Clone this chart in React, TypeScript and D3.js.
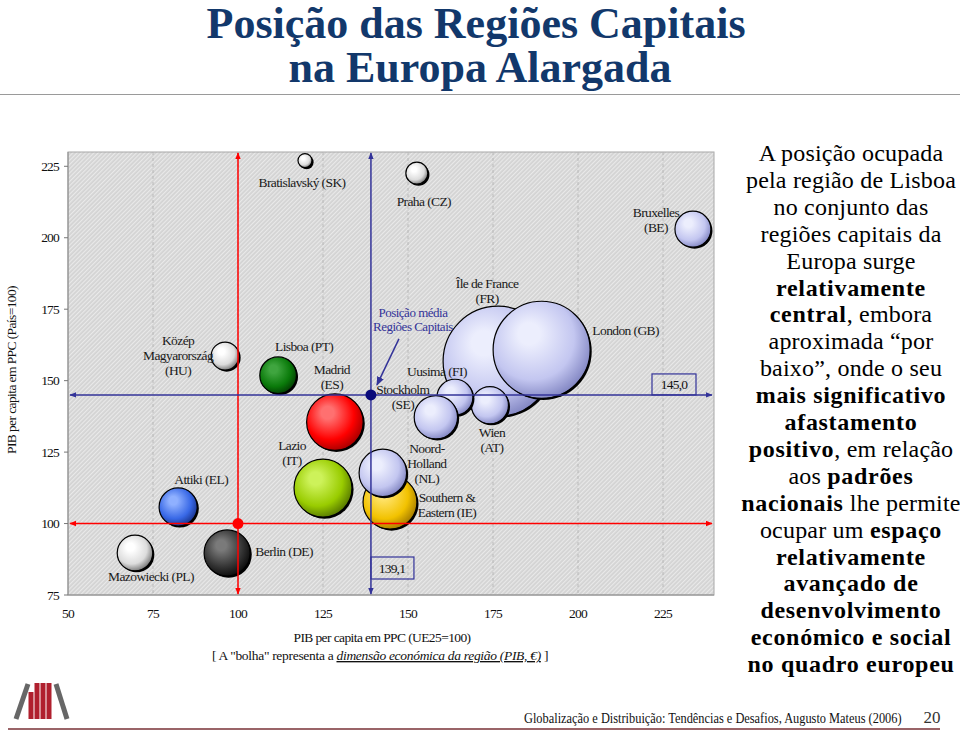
import React from "react";
import * as d3 from "d3";

// ---------- DATA ----------
const regions = [
  "Mazowiecki (PL)", "Berlin (DE)", "Attiki (EL)", "Közép-Magyarország (HU)", "Lisboa (PT)",
  "Lazio (IT)", "Madrid (ES)", "Bratislavský (SK)", "Praha (CZ)", "Southern & Eastern (IE)",
  "Noord-Holland (NL)", "Île de France (FR)", "London (GB)", "Wien (AT)", "Uusimaa (FI)",
  "Stockholm (SE)", "Bruxelles (BE)",
];
// PIB per capita em PPC (UE25=100)
const gdpPpcEU = [69.7, 96.8, 82.4, 96.2, 111.8, 125.0, 128.5, 119.7, 152.6, 144.7, 142.6, 176.5, 189.3, 174.1, 163.8, 158.2, 233.8];
// PIB per capita em PPC (País=100)
const gdpPpcNat = [89.7, 89.7, 105.8, 158.6, 151.9, 112.4, 135.5, 227.0, 222.6, 107.5, 117.7, 156.8, 160.8, 141.4, 144.2, 137.2, 203.0];
// dimensão económica (PIB, mil milhões €)
const gdpSize = [47, 79, 54, 29, 50, 125, 119, 7.3, 18, 108, 84, 450, 350, 51, 48, 70, 48];
const colorKeys = ["white", "black", "blue", "white", "dkgreen", "ygreen", "red", "white", "white", "gold", "lavender", "lavender", "lavender", "lavender", "lavender", "lavender", "lavender"];

const xTicks = [50, 75, 100, 125, 150, 175, 200, 225];
const yTicks = [75, 100, 125, 150, 175, 200, 225];
const euRef = 100;
const natRef = 100;
const capitalsMeanX = 139.1;
const capitalsMeanY = 145.0;
const meanXLabel = "139,1";
const meanYLabel = "145,0";

const title1 = "Posição das Regiões Capitais";
const title2 = "na Europa Alargada";
const xTitle = "PIB per capita em PPC (UE25=100)";
const yTitle = "PIB per capita em PPC (País=100)";
const footer = "Globalização e Distribuição: Tendências e Desafios, Augusto Mateus (2006)";
const pageNo = "20";

const rightText: [string, boolean][][] = [
  [["A posição ocupada", false]],
  [["pela região de Lisboa", false]],
  [["no conjunto das", false]],
  [["regiões capitais da", false]],
  [["Europa surge", false]],
  [["relativamente", true]],
  [["central", true], [", embora", false]],
  [["aproximada “por", false]],
  [["baixo”, onde o seu", false]],
  [["mais significativo", true]],
  [["afastamento", true]],
  [["positivo", true], [", em relação", false]],
  [["aos ", false], ["padrões", true]],
  [["nacionais", true], [" lhe permite", false]],
  [["ocupar um ", false], ["espaço", true]],
  [["relativamente", true]],
  [["avançado de", true]],
  [["desenvolvimento", true]],
  [["económico e social", true]],
  [["no quadro europeu", true]],
];

// label layout (lines, offset from bubble centre in px)
const labelLayout: { lines: string[]; dx: number; dy: number }[] = [
  { lines: ["Mazowiecki (PL)"], dx: 16, dy: 24 },
  { lines: ["Berlin (DE)"], dx: 57, dy: -1 },
  { lines: ["Attiki (EL)"], dx: 23, dy: -27 },
  { lines: ["Közép", "Magyarország", "(HU)"], dx: -47, dy: -16 },
  { lines: ["Lisboa (PT)"], dx: 26, dy: -29 },
  { lines: ["Lazio", "(IT)"], dx: -31, dy: -43 },
  { lines: ["Madrid", "(ES)"], dx: -3, dy: -53 },
  { lines: ["Bratislavský (SK)"], dx: -3, dy: 22 },
  { lines: ["Praha (CZ)"], dx: 7, dy: 28 },
  { lines: ["Southern &", "Eastern (IE)"], dx: 57, dy: -5 },
  { lines: ["Noord-", "Holland", "(NL)"], dx: 44, dy: -24 },
  { lines: ["Île de France", "(FR)"], dx: -11, dy: -78 },
  { lines: ["London (GB)"], dx: 84, dy: -19 },
  { lines: ["Wien", "(AT)"], dx: 2, dy: 27 },
  { lines: ["Uusima (FI)"], dx: -18, dy: -26 },
  { lines: ["Stockholm", "(SE)"], dx: -33, dy: -28 },
  { lines: ["Bruxelles", "(BE)"], dx: -37, dy: -17 },
];

const palette: Record<string, [string, string, string]> = {
  white: ["#ffffff", "#dcdcdc", "#7a7a7a"],
  black: ["#7a7a7a", "#333333", "#0c0c0c"],
  blue: ["#8fb0ff", "#3868e6", "#1a3590"],
  dkgreen: ["#3fa53f", "#0a7a0a", "#034003"],
  ygreen: ["#cdf25a", "#99cc00", "#587a00"],
  red: ["#ff7070", "#ff0000", "#a80000"],
  gold: ["#ffe36a", "#f2c200", "#a87e00"],
  lavender: ["#eceefd", "#c3c6f0", "#8488c4"],
};

const W = 960;
const H = 732;
const plot = { left: 68, right: 714, top: 152, bottom: 595 };
const FF = { fontFamily: "Liberation Serif" } as const;
const FFpre = { fontFamily: "Liberation Serif", whiteSpace: "pre" } as const;

export default function App() {
  const x = d3.scaleLinear().domain([50, 240]).range([plot.left, plot.right]);
  const y = d3.scaleLinear().domain([75, 230]).range([plot.bottom, plot.top]);
  const r = d3.scaleSqrt().domain([0, 450]).range([0, 55]);

  const blue = "#333399";
  const red = "#ff0000";

  const mx = x(capitalsMeanX);
  const my = y(capitalsMeanY);

  return (
    <svg width={W} height={H} style={{ position: "absolute", left: 0, top: 0, background: "#fff" }}>
      <defs>
        <pattern id="hatch" width="3" height="3" patternUnits="userSpaceOnUse" patternTransform="rotate(45)">
          <rect width="3" height="3" fill="#d3d3d3" />
          <rect width="1.2" height="3" fill="#e9e9e9" />
        </pattern>
        {Object.entries(palette).map(([k, c]) => (
          <radialGradient key={k} id={`g-${k}`} cx="42%" cy="40%" r="62%" fx="36%" fy="32%">
            <stop offset="0%" stopColor={c[0]} />
            <stop offset="18%" stopColor={c[0]} />
            <stop offset="70%" stopColor={c[1]} />
            <stop offset="100%" stopColor={c[2]} />
          </radialGradient>
        ))}
        <marker id="arR" viewBox="0 0 10 10" refX="9" refY="5" markerWidth="7" markerHeight="7" markerUnits="userSpaceOnUse" orient="auto-start-reverse">
          <path d="M0,1 L10,5 L0,9 z" fill={red} />
        </marker>
        <marker id="arB" viewBox="0 0 10 10" refX="9" refY="5" markerWidth="7" markerHeight="7" markerUnits="userSpaceOnUse" orient="auto-start-reverse">
          <path d="M0,1 L10,5 L0,9 z" fill={blue} />
        </marker>
        <marker id="arB2" viewBox="0 0 10 10" refX="9" refY="5" markerWidth="9" markerHeight="9" markerUnits="userSpaceOnUse" orient="auto">
          <path d="M0,1 L10,5 L0,9 z" fill={blue} />
        </marker>
      </defs>

      {/* Title */}
      <g fill="#12386b" fontWeight="bold" fontSize={44} textAnchor="middle">
        <text x={476} y={38} style={FF}>{title1}</text>
        <text x={480} y={82} style={FF}>{title2}</text>
      </g>
      <line x1={0} x2={960} y1={94.5} y2={94.5} stroke="#9a9a9a" strokeWidth={1.2} />

      {/* Plot background */}
      <rect x={plot.left} y={plot.top} width={plot.right - plot.left} height={plot.bottom - plot.top} fill="url(#hatch)" stroke="#a8a8a8" strokeWidth={1} />
      <line x1={plot.left} x2={plot.left} y1={plot.top} y2={plot.bottom} stroke="#8c8c8c" />
      <line x1={plot.left} x2={plot.right} y1={plot.bottom} y2={plot.bottom} stroke="#8c8c8c" />
      {xTicks.slice(1).map((t) => (
        <line key={t} x1={x(t)} x2={x(t)} y1={plot.top} y2={plot.bottom} stroke="#b0b0b0" strokeWidth={0.8} strokeDasharray="3,3" />
      ))}

      {/* Y ticks */}
      <g fontSize={13.5} fill="#111" textAnchor="end" letterSpacing={-0.8}>
        {yTicks.map((t) => (
          <g key={t}>
            <line x1={plot.left - 4} x2={plot.left} y1={y(t)} y2={y(t)} stroke="#777" />
            <text x={plot.left - 9} y={y(t) + 4.5} style={FF}>{t}</text>
          </g>
        ))}
      </g>
      {/* X ticks */}
      <g fontSize={13.5} fill="#111" textAnchor="middle" letterSpacing={-0.8}>
        {xTicks.map((t) => (
          <text key={t} x={x(t)} y={618} style={FF}>{t}</text>
        ))}
      </g>

      {/* Axis titles */}
      <text x={382} y={642} fontSize={13.5} textAnchor="middle" letterSpacing={-0.6} fill="#111" style={FF}>{xTitle}</text>
      <text x={380} y={660} fontSize={13.5} textAnchor="middle" letterSpacing={-0.3} fill="#111" style={FFpre}>
        {"[ A \"bolha\" representa a "}
        <tspan fontStyle="italic" textDecoration="underline">dimensão económica da região (PIB, €)</tspan>
        {" ]"}
      </text>
      <text transform={`translate(16,370) rotate(-90)`} fontSize={13.5} textAnchor="middle" letterSpacing={-0.6} fill="#111" style={FF}>{yTitle}</text>

      {/* Bubbles */}
      <g>
        {regions.map((name, i) => {
          const cx = x(gdpPpcEU[i]);
          const cy = y(gdpPpcNat[i]);
          const rr = r(gdpSize[i]);
          return (
            <g key={name}>
              <circle cx={cx + 1.6} cy={cy + 1.6} r={rr} fill="#000" />
              <circle cx={cx} cy={cy} r={rr} fill={`url(#g-${colorKeys[i]})`} stroke="#000" strokeWidth={1.2} />
            </g>
          );
        })}
      </g>

      {/* Reference lines: EU / national average */}
      <line x1={plot.left + 2} x2={plot.right - 2} y1={y(natRef)} y2={y(natRef)} stroke={red} strokeWidth={1.5} markerStart="url(#arR)" markerEnd="url(#arR)" />
      <line x1={x(euRef)} x2={x(euRef)} y1={plot.bottom - 1} y2={plot.top + 1} stroke={red} strokeWidth={1.5} markerStart="url(#arR)" markerEnd="url(#arR)" />
      <circle cx={x(euRef)} cy={y(natRef)} r={5.5} fill={red} />

      {/* Capitals mean lines */}
      <line x1={plot.left + 2} x2={plot.right - 2} y1={my} y2={my} stroke={blue} strokeWidth={1.5} markerStart="url(#arB)" markerEnd="url(#arB)" />
      <line x1={mx} x2={mx} y1={plot.bottom - 1} y2={plot.top + 1} stroke={blue} strokeWidth={1.5} markerStart="url(#arB)" markerEnd="url(#arB)" />
      <circle cx={mx} cy={my} r={5.5} fill="#0a0a7a" />

      {/* value boxes */}
      <rect x={plot.right - 62} y={my - 21} width={44} height={21} fill="none" stroke={blue} strokeWidth={1.2} />
      <text x={plot.right - 40} y={my - 6} fontSize={13.5} textAnchor="middle" letterSpacing={-0.8} fill="#111" style={FF}>{meanYLabel}</text>
      <rect x={mx} y={plot.bottom - 38} width={43} height={22} fill="none" stroke={blue} strokeWidth={1.2} />
      <text x={mx + 21} y={plot.bottom - 22} fontSize={13.5} textAnchor="middle" letterSpacing={-0.8} fill="#111" style={FF}>{meanXLabel}</text>

      {/* annotation */}
      <g fill={blue} fontSize={13} textAnchor="middle" letterSpacing={-0.5}>
        <text x={mx + 42} y={my - 78} style={FF}>Posição média</text>
        <text x={mx + 42} y={my - 64} style={FF}>Regiões Capitais</text>
      </g>
      <line x1={mx + 28} y1={my - 56} x2={mx + 6} y2={my - 10} stroke={blue} strokeWidth={1.5} markerEnd="url(#arB2)" />

      {/* bubble labels */}
      <g fontSize={13.5} fill="#1a1a1a" textAnchor="middle" letterSpacing={-0.6}>
        {regions.map((name, i) => {
          const L = labelLayout[i];
          const cx = x(gdpPpcEU[i]) + L.dx;
          const cy = y(gdpPpcNat[i]) + L.dy;
          return L.lines.map((ln, j) => (
            <text key={name + j} x={cx} y={cy + j * 15 + 4.5} style={FF}>{ln}</text>
          ));
        })}
      </g>

      {/* right text */}
      <g fontSize={24} fill="#000" textAnchor="middle">
        {rightText.map((segs, i) => (
          <text key={i} x={851} y={161 + i * 26.9} style={FFpre}>
            {segs.map(([t, b], j) => (
              <tspan key={j} fontWeight={b ? "bold" : "normal"} letterSpacing={b ? 0.7 : 0.2}>{t}</tspan>
            ))}
          </text>
        ))}
      </g>

      {/* footer */}
      <g>
        <line x1={16} y1={719} x2={28} y2={684} stroke="#676767" strokeWidth={5} />
        <rect x={28.5} y={692} width={5} height={27} fill="#b0202e" />
        <rect x={34.5} y={683} width={5} height={36} fill="#b0202e" />
        <rect x={40.5} y={683} width={5} height={36} fill="#b0202e" />
        <rect x={46.5} y={683} width={5} height={36} fill="#b0202e" />
        <line x1={56} y1={684} x2={67} y2={719} stroke="#676767" strokeWidth={5} />
        <line x1={8} x2={940} y1={729} y2={729} stroke="#9a6468" strokeWidth={2} />
        <text transform="translate(524,723) scale(0.86,1)" fontSize={14.4} fill="#111" style={FF}>{footer}</text>
        <text x={932} y={723} fontSize={17} textAnchor="middle" fill="#333" style={FF}>{pageNo}</text>
      </g>
    </svg>
  );
}
